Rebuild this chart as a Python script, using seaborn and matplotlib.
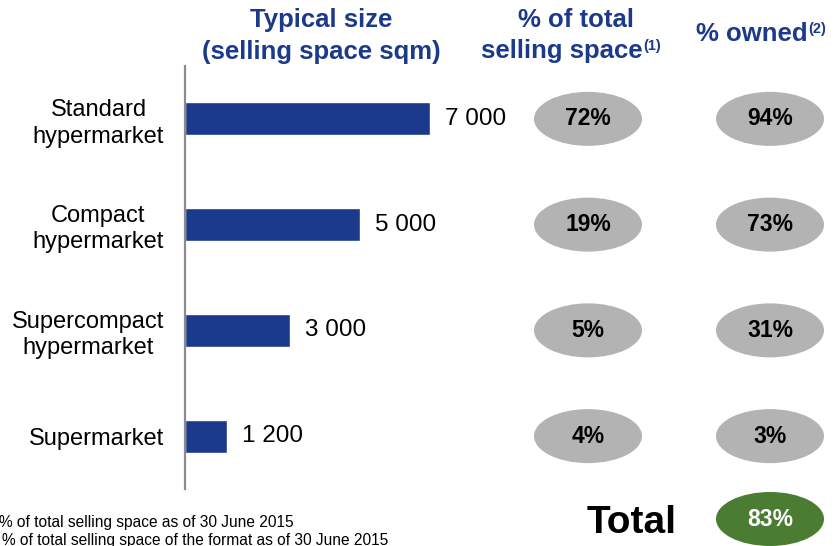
import matplotlib
matplotlib.use('Agg')
import matplotlib.pyplot as plt
from matplotlib.patches import Ellipse
import seaborn as sns
import pandas as pd

sns.set_style('white')
plt.rcParams['font.family'] = ['Liberation Sans', 'DejaVu Sans']
plt.rcParams['text.color'] = 'black'
plt.rcParams['ytick.color'] = 'black'
plt.rcParams['ytick.labelcolor'] = 'black'

# ===== data =====
formats = ['Standard\nhypermarket', 'Compact\nhypermarket',
           'Supercompact\nhypermarket', 'Supermarket']
typical_size = [7000, 5000, 3000, 1200]
share_selling_space = [72, 19, 5, 4]
share_owned = [94, 73, 31, 3]
total_owned = 83

footnotes = ['(1) % of total selling space as of 30 June 2015',
             '(2) % of total selling space of the format as of 30 June 2015']

BLUE = '#1c3a8c'
GREY = '#b3b3b3'
GREEN = '#4a7d32'

df = pd.DataFrame({'format': formats, 'size': typical_size})

W, H = 840, 546
fig = plt.figure(figsize=(W / 100, H / 100), dpi=100)
ax = fig.add_axes([185 / W, 57 / H, 655 / W, 423 / H])

sns.barplot(data=df, x='size', y='format', orient='h', color=BLUE,
            saturation=1, width=0.31, ax=ax)

px_per_unit = 0.035          # horizontal scale (pixels per sqm)
ax.set_xlim(0, 655 / px_per_unit)
ax.set_ylim(3.5, -0.5)

# value labels next to bars
labels = [f'{v:,}'.replace(',', ' ') for v in typical_size]
ax.bar_label(ax.containers[0], labels=labels, padding=11, fontsize=17.5,
             color='black')

# axes styling
sns.despine(ax=ax, top=True, right=True, bottom=True, left=False)
ax.spines['left'].set_color('#8c8c8c')
ax.spines['left'].set_linewidth(1.6)
ax.set_xticks([])
ax.set_xlabel('')
ax.set_ylabel('')
ax.tick_params(axis='y', length=0, pad=15, labelsize=17, labelcolor='black')
for t in ax.get_yticklabels():
    t.set_multialignment('center')
    t.set_linespacing(1.25)

# ellipses with percentages
col1_x = (588 - 185) / px_per_unit
col2_x = (770 - 185) / px_per_unit
ell_w = 108 / px_per_unit
ell_h = 54 / 105.75
for i, (a, b) in enumerate(zip(share_selling_space, share_owned)):
    for cx, val in ((col1_x, a), (col2_x, b)):
        ax.add_patch(Ellipse((cx, i), ell_w, ell_h, facecolor=GREY,
                             edgecolor='none', clip_on=False))
        ax.text(cx, i, f'{val}%', ha='center', va='center',
                fontsize=16.5, fontweight='bold', color='black')

# total row
y_total = 3.5 + (519 - 489) / 105.75
ax.add_patch(Ellipse((col2_x, y_total), ell_w, ell_h, facecolor=GREEN,
                     edgecolor='none', clip_on=False))
ax.text(col2_x, y_total, f'{total_owned}%', ha='center', va='center',
        fontsize=16.5, fontweight='bold', color='white')
ax.text((632 - 185) / px_per_unit, y_total + 4 / 105.75, 'Total',
        ha='center', va='center', fontsize=28, fontweight='bold',
        color='black')


# column headers
def fy(py):
    return 1 - py / H


hdr = dict(fontsize=18.5, fontweight='bold', color=BLUE, va='baseline')
fig.text(321 / W, fy(27), 'Typical size', ha='center', **hdr)
fig.text(321 / W, fy(59), '(selling space sqm)', ha='center', **hdr)
fig.text(576 / W, fy(27), '% of total', ha='center', **hdr)
t1 = fig.text(562 / W, fy(58), 'selling space', ha='center', **hdr)
t2 = fig.text(752 / W, fy(41), '% owned', ha='center', **hdr)
for t, s in ((t1, '(1)'), (t2, '(2)')):
    plt.annotate(s, xy=(1.0, 0.98), xycoords=t, ha='left', va='top',
                 fontsize=10.5, fontweight='bold', color=BLUE,
                 annotation_clip=False)

# footnotes (clipped at left edge as in the original slide)
fig.text(294 / W, fy(522), footnotes[0][4:], ha='right', va='center',
         fontsize=11.2, color='black')
fig.text(388 / W, fy(540), footnotes[1][4:], ha='right', va='center',
         fontsize=11.2, color='black')

plt.savefig('out.png', dpi=100)
